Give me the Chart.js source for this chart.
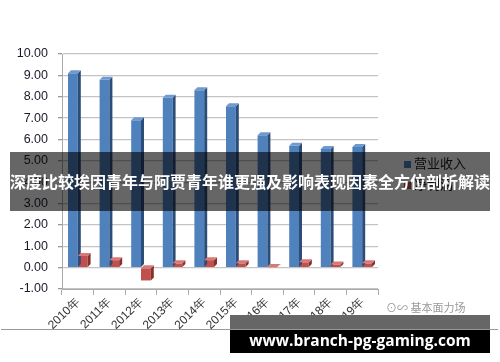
<!DOCTYPE html>
<html><head><meta charset="utf-8">
<script src="https://cdn.jsdelivr.net/npm/chart.js@4/dist/chart.umd.min.js"></script>
<style>
html,body{margin:0;padding:0;background:#fff;width:500px;height:362px;overflow:hidden;font-family:"Noto Sans CJK SC","Noto Sans",sans-serif}
#wrap{position:relative;width:500px;height:362px}
canvas{position:absolute;left:0;top:0}
.legend{position:absolute;left:404px;font-size:13px;color:#222;line-height:14px}
.legend span{display:inline-block;width:7px;height:7px;margin-right:3px;vertical-align:middle}
#banner{position:absolute;left:10px;top:152px;width:480px;height:59px;background:rgba(0,0,0,0.6)}
#btext{position:absolute;left:-20px;top:169px;width:540px;text-align:center;color:#fff;font-weight:bold;font-size:16px;white-space:nowrap;font-family:"Noto Sans CJK SC",sans-serif;letter-spacing:0px}
#line{position:absolute;left:1px;top:329px;width:497px;height:1px;background:#999}
#wm1{position:absolute;left:230px;top:315px;width:260px;height:14px;background:#666}
#wm2{position:absolute;left:230px;top:330px;width:260px;height:23px;background:#000}
#wmt{position:absolute;left:230px;top:329px;width:260px;text-align:center;color:#fff;font-weight:bold;font-size:15.5px;font-family:"Open Sans","DejaVu Sans",sans-serif}
#logo{position:absolute;left:386px;top:299px;font-size:11px;color:#999}
</style></head><body>
<div id="wrap">
<canvas id="c" width="500" height="362"></canvas>
<div class="legend" style="top:156px"><span style="background:#4F81BD"></span>营业收入</div>
<div class="legend" style="top:177px"><span style="background:#C0504D"></span>净利润</div>
<div id="banner"></div>
<div id="btext">深度比较埃因青年与阿贾青年谁更强及影响表现因素全方位剖析解读</div>
<div id="logo">⊙∽ 基本面力场</div>
<div id="line"></div>
<div id="wm1"></div><div id="wm2"></div>
<div id="wmt">www.branch-pg-gaming.com</div>
</div>
<script>
const categories = ["2010年","2011年","2012年","2013年","2014年","2015年","2016年","2017年","2018年","2019年"];
const revenue = [9.1, 8.8, 6.9, 7.95, 8.3, 7.55, 6.2, 5.7, 5.55, 5.65];
const profit = [0.55, 0.35, -0.6, 0.2, 0.35, 0.2, 0.02, 0.25, 0.15, 0.2];
const seriesNames = ["营业收入","净利润"];

const shade = {
  id:'shade',
  afterDatasetsDraw(chart){
    const ctx = chart.ctx;
    const cols = [["#2c4d7a","#6f9ad0"],["#8a2f2c","#d77a77"]];
    chart.data.datasets.forEach((ds,di)=>{
      chart.getDatasetMeta(di).data.forEach(b=>{
        const w = b.width, x0 = b.x - w/2, x1 = b.x + w/2;
        const top = Math.min(b.y,b.base), bot = Math.max(b.y,b.base);
        const d = 3;
        ctx.save();
        ctx.fillStyle = cols[di][0];
        ctx.beginPath();
        ctx.moveTo(x1,top);ctx.lineTo(x1+d,top-d);ctx.lineTo(x1+d,bot-d);ctx.lineTo(x1,bot);ctx.closePath();ctx.fill();
        ctx.fillStyle = cols[di][1];
        ctx.beginPath();
        ctx.moveTo(x0,top);ctx.lineTo(x0+d,top-d);ctx.lineTo(x1+d,top-d);ctx.lineTo(x1,top);ctx.closePath();ctx.fill();
        ctx.restore();
      });
    });
  }
};

new Chart(document.getElementById('c'),{
  type:'bar',
  data:{labels:categories,datasets:[
    {label:seriesNames[0],data:revenue,backgroundColor:'#4F81BD',categoryPercentage:0.62,barPercentage:1.0},
    {label:seriesNames[1],data:profit,backgroundColor:'#C0504D',categoryPercentage:0.62,barPercentage:1.0}
  ]},
  options:{
    responsive:false,animation:false,
    layout:{padding:{top:54,right:122,left:0,bottom:0}},
    plugins:{legend:{display:false},tooltip:{enabled:false}},
    scales:{
      y:{min:-1,max:10,
        ticks:{stepSize:1,callback:v=>Number(v).toFixed(2),color:'#1a1a2a',font:{family:'Liberation Sans',size:12.5},padding:10},
        grid:{color:'#c4c4c4',lineWidth:1.3,tickLength:4,tickColor:'#999'},
        border:{color:'#aaa'},
        afterFit(s){s.width=62;}
      },
      x:{
        ticks:{maxRotation:45,minRotation:45,color:'#333',font:{family:'Liberation Sans',size:12},padding:0},
        grid:{display:true,drawOnChartArea:false,tickLength:6,color:'#aaa'},
        border:{color:'#aaa'},
        afterFit(s){s.height=73;}
      }
    }
  },
  plugins:[shade]
});
</script>
</body></html>
